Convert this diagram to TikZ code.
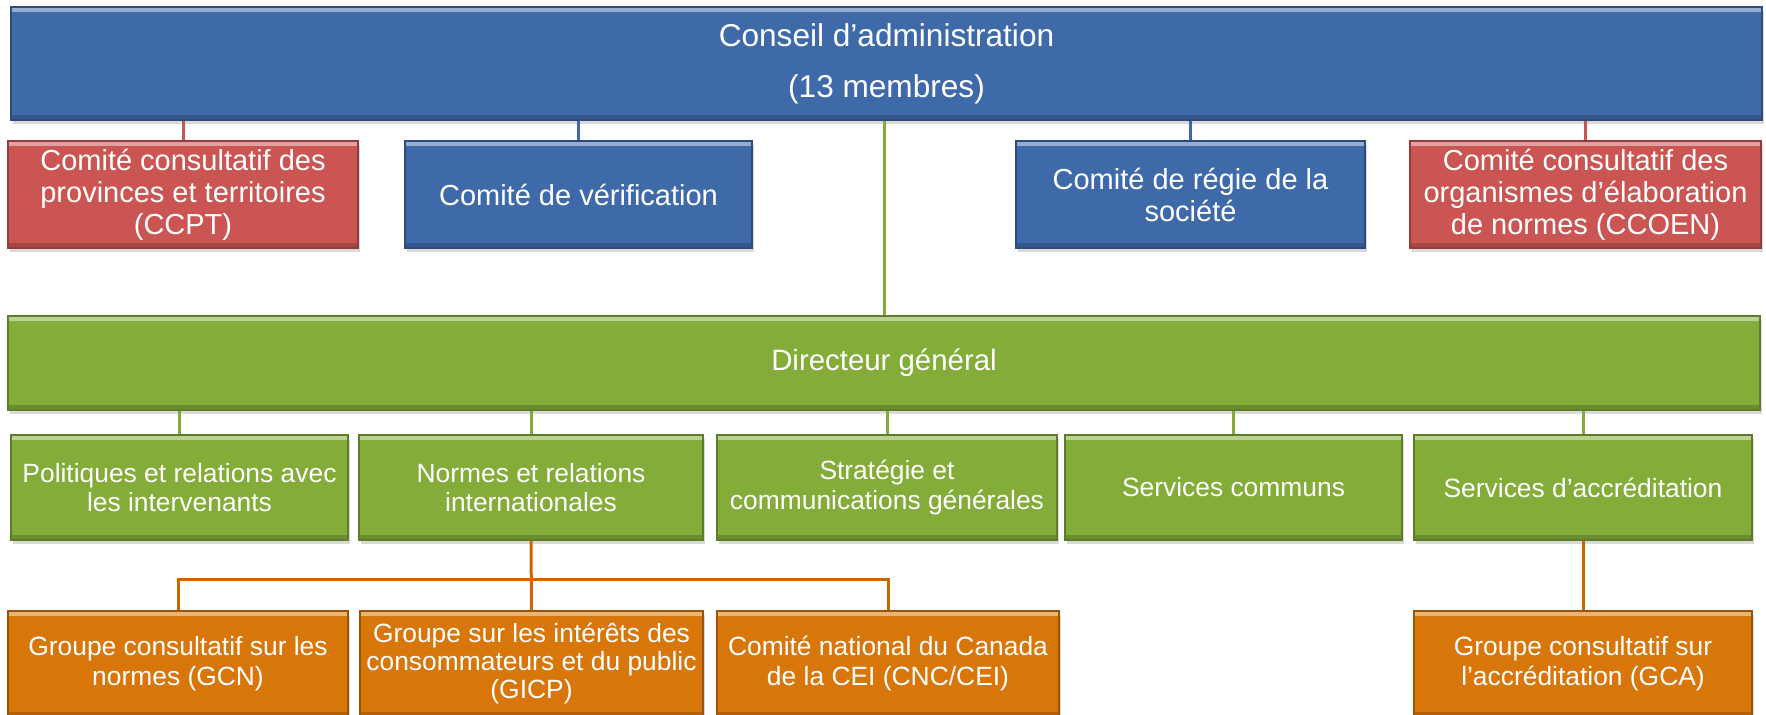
\documentclass[tikz,border=0pt]{standalone}
\usepackage{fontspec}
\setmainfont{Liberation Sans}
\usetikzlibrary{positioning, shadows}

\definecolor{boardblue}{RGB}{63,106,170}
\definecolor{comred}{RGB}{203,85,82}
\definecolor{mgmtgreen}{RGB}{132,172,57}
\definecolor{grouporange}{RGB}{217,118,10}
\definecolor{busorange}{RGB}{204,102,0}

\begin{document}
\begin{tikzpicture}[
    x=0.5pt, y=-0.5pt,
    unit/.style={rectangle, draw=#1!72!black, fill=#1, line width=0.6pt, inner sep=0pt,
                 text=white, align=center,
                 drop shadow={shadow xshift=1.2pt, shadow yshift=-2pt, opacity=0.3},
                 path picture={
                     \fill[#1!55!white] (path picture bounding box.north west)
                         rectangle ([yshift=-2.5pt]path picture bounding box.north east);
                     \fill[#1!82!black] (path picture bounding box.south west)
                         rectangle ([yshift=2.5pt]path picture bounding box.south east);
                 }},
    boardbox/.style={unit=boardblue},
    redbox/.style={unit=comred},
    greenbox/.style={unit=mgmtgreen},
    orangebox/.style={unit=grouporange},
    toprow/.style={minimum height=53.5pt, font=\fontsize{14.5}{16}\selectfont},
    midrow/.style={minimum height=52.5pt, font=\fontsize{13.2}{14.6}\selectfont},
    lowrow/.style={minimum height=53pt, font=\fontsize{13.2}{15}\selectfont},
    link/.style={line width=1.5pt}
]
    \useasboundingbox (0,0) rectangle (1766,715);

    % Board
    \node[boardbox, minimum width=875.5pt, minimum height=56.5pt,
          font=\fontsize{15.8}{18}\selectfont] (conseil) at (886.5, 63.5)
        {Conseil d’administration\\[7.5pt](13 membres)};

    % Committees
    \node[redbox, toprow, minimum width=175pt] (ccpt) at (183, 194.5)
        {Comité consultatif des\\provinces et territoires\\(CCPT)};
    \node[boardbox, toprow, minimum width=173.5pt] (verif) at (578.5, 194.5)
        {Comité de vérification};
    \node[boardbox, toprow, minimum width=174.5pt] (regie) at (1190.5, 194.5)
        {Comité de régie de la\\société};
    \node[redbox, toprow, minimum width=175.5pt] (ccoen) at (1585.5, 194.5)
        {Comité consultatif des\\organismes d’élaboration\\de normes (CCOEN)};

    % Chief executive
    \node[greenbox, minimum width=876pt, minimum height=47pt,
          font=\fontsize{14.7}{17}\selectfont] (dg) at (884, 363)
        {Directeur général};

    % Branches
    \node[greenbox, midrow, minimum width=168.5pt] (politiques) at (179.5, 487.5)
        {Politiques et relations avec\\les intervenants};
    \node[greenbox, midrow, minimum width=172pt] (normes) at (531, 487.5)
        {Normes et relations\\internationales};
    \node[greenbox, midrow, minimum width=170pt] (strategie) at (887, 487.5)
        {Stratégie et\\communications générales};
    \node[greenbox, midrow, minimum width=168.5pt] (communs) at (1233.5, 487.5)
        {Services communs};
    \node[greenbox, midrow, minimum width=169pt] (accred) at (1583, 487.5)
        {Services d’accréditation};

    % Advisory groups
    \node[orangebox, lowrow, minimum width=170pt] (gcn) at (178, 664)
        {Groupe consultatif sur les\\normes (GCN)};
    \node[orangebox, lowrow, minimum width=171.5pt,
          font=\fontsize{13.2}{14}\selectfont] (gicp) at (531.5, 664)
        {Groupe sur les intérêts des\\consommateurs et du public\\(GICP)};
    \node[orangebox, lowrow, minimum width=171pt] (cnc) at (888, 664)
        {Comité national du Canada\\de la CEI (CNC/CEI)};
    \node[orangebox, lowrow, minimum width=169pt] (gca) at (1583, 664)
        {Groupe consultatif sur\\l’accréditation (GCA)};

    % Links
    \draw[link, comred] (ccpt.north) -- (ccpt.north |- conseil.south);
    \draw[link, boardblue] (verif.north) -- (verif.north |- conseil.south);
    \draw[link, boardblue] (regie.north) -- (regie.north |- conseil.south);
    \draw[link, comred] (ccoen.north) -- (ccoen.north |- conseil.south);
    \draw[link, mgmtgreen] (dg.north) -- (dg.north |- conseil.south);

    \foreach \b in {politiques, normes, strategie, communs, accred}
        \draw[link, mgmtgreen] (\b.north) -- (\b.north |- dg.south);

    \coordinate (bus) at (0, 579);
    \draw[link, busorange] (normes.south) -- (gicp.north);
    \draw[link, busorange] (gcn.north) -- (gcn.north |- bus) -| (cnc.north);
    \draw[link, busorange] (accred.south) -- (gca.north);
\end{tikzpicture}
\end{document}
